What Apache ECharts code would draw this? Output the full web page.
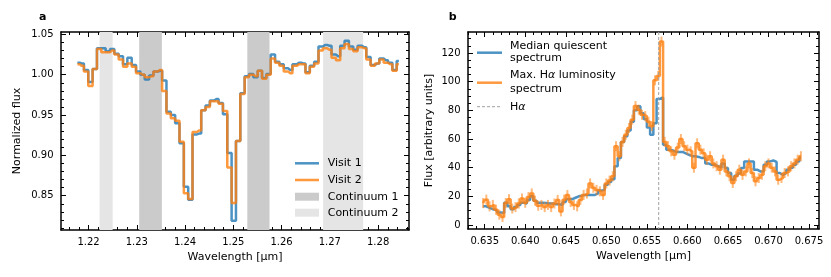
<!DOCTYPE html>
<html><head><meta charset="utf-8">
<script src="https://cdn.jsdelivr.net/npm/echarts@6/dist/echarts.min.js"></script>
<style>html,body{margin:0;padding:0;background:#fff}#c{width:831px;height:277px}</style>
</head><body><div id="c"></div>
<script>
// ---------- Panel a data ----------
const wlA = [1.2177,1.2186,1.2195,1.2204,1.2213,1.2222,1.2231,1.2240,1.2249,1.2258,
1.2267,1.2276,1.2285,1.2294,1.2303,1.2312,1.2321,1.2330,1.2339,1.2348,
1.2357,1.2366,1.2375,1.2384,1.2393,1.2402,1.2411,1.2420,1.2429,1.2438,
1.2447,1.2456,1.2465,1.2474,1.2483,1.2492,1.2501,1.2510,1.2519,1.2528,
1.2537,1.2546,1.2555,1.2564,1.2573,1.2582,1.2591,1.2600,1.2609,1.2618,
1.2627,1.2636,1.2645,1.2654,1.2663,1.2672,1.2681,1.2690,1.2699,1.2708,
1.2717,1.2726,1.2735,1.2744,1.2753,1.2762,1.2771,1.2780,1.2789,1.2798,
1.2807,1.2816,1.2825,1.2834,1.2843];
const visit1 = [1.015,1.014,1.006,0.991,1.007,1.033,1.033,1.029,1.032,1.026,
1.023,1.013,1.021,1.012,1.004,1.000,0.994,0.999,1.004,1.005,
0.993,0.954,0.950,0.940,0.915,0.861,0.845,0.926,0.927,0.956,
0.962,0.968,0.970,0.965,0.951,0.903,0.819,0.918,0.977,0.998,
1.001,0.997,1.005,0.996,1.001,1.025,1.016,1.013,1.008,1.006,
1.013,1.015,1.014,1.003,1.011,1.016,1.035,1.037,1.036,1.025,
1.023,1.036,1.042,1.035,1.031,1.036,1.034,1.022,1.012,1.014,
1.020,1.018,1.015,1.006,1.017];
const visit2 = [1.013,1.011,1.004,0.986,1.007,1.032,1.028,1.028,1.030,1.025,
1.019,1.010,1.014,1.010,1.002,1.000,0.997,0.998,1.004,1.006,
0.980,0.952,0.946,0.943,0.917,0.853,0.846,0.929,0.931,0.956,
0.960,0.967,0.967,0.964,0.955,0.885,0.841,0.918,0.976,0.997,
1.000,0.998,1.005,0.995,1.000,1.020,1.015,1.011,1.004,1.002,
1.011,1.013,1.013,1.002,1.010,1.014,1.030,1.033,1.031,1.021,
1.018,1.033,1.038,1.032,1.029,1.034,1.033,1.019,1.011,1.014,
1.019,1.015,1.013,1.005,1.013];
const continuum1 = [[1.2305,1.2352],[1.2529,1.2575]];
const continuum2 = [[1.2223,1.2250],[1.2686,1.2769]];
const ticksAX = [1.22,1.23,1.24,1.25,1.26,1.27,1.28];
const ticksAY = [0.85,0.90,0.95,1.00,1.05];

// ---------- Panel b data ----------
const wlB = [0.6348,0.6352,0.6356,0.6360,0.6364,0.6368,0.6372,0.6376,0.6380,0.6384,
0.6388,0.6392,0.6396,0.6400,0.6404,0.6408,0.6412,0.6416,0.6420,0.6424,
0.6428,0.6432,0.6436,0.6440,0.6444,0.6448,0.6452,0.6456,0.6460,0.6464,
0.6468,0.6472,0.6476,0.6480,0.6484,0.6488,0.6492,0.6496,0.6500,0.6504,
0.6508,0.6512,0.6516,0.6520,0.6524,0.6528,0.6532,0.6536,0.6540,0.6544,
0.6548,0.6552,0.6556,0.6560,0.6564,0.6568,0.6572,0.6576,0.6580,0.6584,
0.6588,0.6592,0.6596,0.6600,0.6604,0.6608,0.6612,0.6616,0.6620,0.6624,
0.6628,0.6632,0.6636,0.6640,0.6644,0.6648,0.6652,0.6656,0.6660,0.6664,
0.6668,0.6672,0.6676,0.6680,0.6684,0.6688,0.6692,0.6696,0.6700,0.6704,
0.6708,0.6712,0.6716,0.6720,0.6724,0.6728,0.6732,0.6736,0.6740];
const quiescent = [13,13,12,11,10.5,8.8,8.4,15.5,13,11,
12.5,14,15.5,15,17.5,20,17,15.5,15.5,15.3,
15,15,14.5,14.5,14,16,18,18,19,20,
20.5,21,21,21,21,22,24,24.5,28,30,
32,41,46.7,58,62,66,72,80,82.8,78,
74,68,63,71,88,89,56,52.6,52,51,
51,51,50,49,48,48,47.5,46.7,46.7,43,
42,42,41,40,43,39.8,36.3,31.6,34.4,36,
39.8,44.4,44.4,44.4,38.6,37.4,37.4,42,44.4,45,
44,36.3,35,36.3,38.6,40,42,44.4,47];
const maxHa = [15.3,17.7,13,14,10.7,7.2,5.6,15.3,18,11.5,
12.5,15,18.5,15.5,19.5,22,17,13.5,14,12.5,
14,12.5,15,17.5,9.5,17.7,21,16,14,13,
17.5,21,22,29,26,24.5,23.5,21,29,31,
34,55,48,58,63,67.7,73.5,83,80.5,77,
76,72,69,101,104,128,58,55,51.4,49,
54,60,55,52.6,51.4,40,57,52.6,50,45.6,
48,43,41,38.6,45.6,37.4,34,29.3,34,38.6,
35,37.4,43,36.3,30.5,32.8,35,41,43,40,
37.4,31.6,32.8,36.3,37.4,41,43,45.6,48];
const maxHaErr = 3.5;
const halpha = [0.65646];
const ticksBX = [0.635,0.640,0.645,0.650,0.655,0.660,0.665,0.670,0.675];
const ticksBY = [0,20,40,60,80,100,120];

// ---------- layout ----------
const FF = 'DejaVu Sans';
const BLUE = 'rgba(31,119,180,0.8)';
const ORANGE = 'rgba(255,127,14,0.8)';
const DARK = '#cbcbcb', LIGHT = '#e5e5e5';
const A = {min: [1.2143, 0.8075], max: [1.2864, 1.053], rect: {left: 61, top: 32, width: 348, height: 198}};
const B = {min: [0.63294, -2.8], max: [0.67623, 134.7], rect: {left: 468, top: 32, width: 351, height: 197}};

function minorList(lo, hi, step, majorStep) {
  const out = [];
  const n0 = Math.ceil(lo / step - 1e-9), n1 = Math.floor(hi / step + 1e-9);
  for (let n = n0; n <= n1; n++) {
    const v = +(n * step).toFixed(6);
    const r = v / majorStep;
    if (Math.abs(r - Math.round(r)) > 1e-6) out.push(v);
  }
  return out;
}

function axis(gridIndex, position, min, max, ticks, len, line, labels, fmt, margin, name, nameGap) {
  const o = {
    type: 'value', gridIndex, position, min, max,
    axisLine: {show: line, onZero: false, lineStyle: {color: '#000', width: 1.5}},
    axisTick: {show: true, inside: true, length: len, customValues: ticks, lineStyle: {color: '#000', width: 1}},
    axisLabel: labels ? {show: true, customValues: labels, formatter: fmt, margin, fontSize: 10, fontFamily: FF, color: '#000'} : {show: false},
    splitLine: {show: false}, minorTick: {show: false}
  };
  if (name) {
    o.name = name; o.nameLocation = 'middle'; o.nameGap = nameGap;
    o.nameTextStyle = {fontSize: 11, fontFamily: FF, color: '#000'};
  }
  return o;
}

const mAX = minorList(A.min[0], A.max[0], 0.002, 0.01);
const mAY = minorList(A.min[1], A.max[1], 0.01, 0.05);
const mBX = minorList(B.min[0], B.max[0], 0.001, 0.005);
const mBY = minorList(B.min[1], B.max[1], 5, 20);

const f2 = v => v.toFixed(2), f3 = v => v.toFixed(3), f0 = v => v.toFixed(0);

const grids = [A.rect, A.rect, B.rect, B.rect].map(r => Object.assign({containLabel: false}, r));

const xAxes = [
  axis(0, 'bottom', A.min[0], A.max[0], ticksAX, 5, true, ticksAX, f2, 7, 'Wavelength [µm]', 21),
  axis(0, 'top', A.min[0], A.max[0], ticksAX, 5, true),
  axis(1, 'bottom', A.min[0], A.max[0], mAX, 3, false),
  axis(1, 'top', A.min[0], A.max[0], mAX, 3, false),
  axis(2, 'bottom', B.min[0], B.max[0], ticksBX, 5, true, ticksBX, f3, 7, 'Wavelength [µm]', 21),
  axis(2, 'top', B.min[0], B.max[0], ticksBX, 5, true),
  axis(3, 'bottom', B.min[0], B.max[0], mBX, 3, false),
  axis(3, 'top', B.min[0], B.max[0], mBX, 3, false)
];
const yAxes = [
  axis(0, 'left', A.min[1], A.max[1], ticksAY, 5, true, ticksAY, f2, 7.5, 'Normalized flux', 38),
  axis(0, 'right', A.min[1], A.max[1], ticksAY, 5, true),
  axis(1, 'left', A.min[1], A.max[1], mAY, 3, false),
  axis(1, 'right', A.min[1], A.max[1], mAY, 3, false),
  axis(2, 'left', B.min[1], B.max[1], ticksBY, 5, true, ticksBY, f0, 7.5, 'Flux [arbitrary units]', 33),
  axis(2, 'right', B.min[1], B.max[1], ticksBY, 5, true),
  axis(3, 'left', B.min[1], B.max[1], mBY, 3, false),
  axis(3, 'right', B.min[1], B.max[1], mBY, 3, false)
];

const bandData = continuum1.map(b => [b[0], b[1], 1]).concat(continuum2.map(b => [b[0], b[1], 2]));

const series = [
  {
    type: 'custom', xAxisIndex: 0, yAxisIndex: 0, z: 1, silent: true,
    data: bandData,
    renderItem: (params, api) => {
      const cs = params.coordSys;
      const x0 = api.coord([api.value(0), A.min[1]])[0];
      const x1 = api.coord([api.value(1), A.min[1]])[0];
      return {type: 'rect', shape: {x: x0, y: cs.y, width: x1 - x0, height: cs.height},
              style: {fill: api.value(2) === 1 ? DARK : LIGHT}};
    }
  },
  {
    type: 'line', name: 'Visit 1', xAxisIndex: 0, yAxisIndex: 0, z: 3, step: 'middle',
    showSymbol: false, silent: true, data: wlA.map((w, i) => [w, visit1[i]]),
    lineStyle: {color: BLUE, width: 2.5}, itemStyle: {color: BLUE}
  },
  {
    type: 'line', name: 'Visit 2', xAxisIndex: 0, yAxisIndex: 0, z: 4, step: 'middle',
    showSymbol: false, silent: true, data: wlA.map((w, i) => [w, visit2[i]]),
    lineStyle: {color: ORANGE, width: 2.5}, itemStyle: {color: ORANGE}
  },
  {
    type: 'line', name: 'Median quiescent spectrum', xAxisIndex: 4, yAxisIndex: 4, z: 3, step: 'middle',
    showSymbol: false, silent: true, data: wlB.map((w, i) => [w, quiescent[i]]),
    lineStyle: {color: BLUE, width: 2.5}, itemStyle: {color: BLUE}
  },
  {
    type: 'line', name: 'Max. Hα luminosity spectrum', xAxisIndex: 4, yAxisIndex: 4, z: 4, step: 'middle',
    showSymbol: false, silent: true, data: wlB.map((w, i) => [w, maxHa[i]]),
    lineStyle: {color: ORANGE, width: 2.5}, itemStyle: {color: ORANGE}
  },
  {
    type: 'custom', xAxisIndex: 4, yAxisIndex: 4, z: 5, silent: true,
    data: wlB.map((w, i) => [w, maxHa[i] - maxHaErr, maxHa[i] + maxHaErr]),
    encode: {x: 0, y: [1, 2]},
    renderItem: (params, api) => {
      const p1 = api.coord([api.value(0), api.value(1)]);
      const p2 = api.coord([api.value(0), api.value(2)]);
      return {type: 'line', shape: {x1: p1[0], y1: p1[1], x2: p2[0], y2: p2[1]},
              style: {stroke: 'rgba(255,127,14,0.55)', lineWidth: 2}};
    }
  },
  {
    type: 'custom', name: 'Hα', xAxisIndex: 4, yAxisIndex: 4, z: 6, silent: true,
    data: halpha.map(v => [v, 0]),
    encode: {x: 0, y: 1},
    renderItem: (params, api) => {
      const cs = params.coordSys;
      const x = api.coord([api.value(0), 0])[0];
      return {type: 'line', shape: {x1: x, y1: cs.y, x2: x, y2: cs.y + cs.height},
              style: {stroke: '#a0a0a0', lineWidth: 1, lineDash: [3, 2]}};
    }
  }
];

function txt(x, y, text, extra) {
  return {type: 'text', x, y, silent: true, z: 100,
    style: Object.assign({text, fontSize: 11, fontFamily: FF, fill: '#000', verticalAlign: 'middle', align: 'left'}, extra || {})};
}
function seg(x1, x2, y, stroke, width, dash) {
  return {type: 'line', silent: true, z: 100, shape: {x1, y1: y, x2, y2: y},
    style: {stroke, lineWidth: width, lineDash: dash || null}};
}
function patch(x, y, w, h, fill) {
  return {type: 'rect', silent: true, z: 100, shape: {x, y, width: w, height: h}, style: {fill}};
}

const graphic = [
  txt(42.7, 16.7, 'a', {fontWeight: 'bold', align: 'center'}),
  txt(452.7, 16.7, 'b', {fontWeight: 'bold', align: 'center'}),
  // legend a
  seg(295, 319, 163.3, BLUE, 2.5), txt(327.7, 163.3, 'Visit 1'),
  seg(295, 319, 180, ORANGE, 2.5), txt(327.7, 180, 'Visit 2'),
  patch(295, 192.7, 24, 8, DARK), txt(327.7, 196.7, 'Continuum 1'),
  patch(295, 208.7, 24, 8, LIGHT), txt(327.7, 212.7, 'Continuum 2'),
  // legend b
  seg(477, 502, 52.7, BLUE, 2.5), txt(510, 52.5, 'Median quiescent\nspectrum', {lineHeight: 11.8}),
  seg(477, 502, 82.7, ORANGE, 2.5),
  txt(510, 82, '{n|Max. H}{i|α}{n| luminosity}\n{n|spectrum}', {lineHeight: 13.5,
      rich: {n: {fontSize: 11, fontFamily: FF, fill: '#000', lineHeight: 13.5},
             i: {fontSize: 11, fontFamily: FF, fill: '#000', fontStyle: 'italic', lineHeight: 13.5}}}),
  seg(477, 502, 106.7, '#a0a0a0', 1, [3, 2]),
  txt(510, 106.7, '{n|H}{i|α}', {rich: {n: {fontSize: 11, fontFamily: FF, fill: '#000'},
      i: {fontSize: 11, fontFamily: FF, fill: '#000', fontStyle: 'italic'}}})
];

const chart = echarts.init(document.getElementById('c'), null, {renderer: 'canvas'});
chart.setOption({
  animation: false, backgroundColor: '#fff',
  grid: grids, xAxis: xAxes, yAxis: yAxes, series, graphic
});
</script></body></html>
